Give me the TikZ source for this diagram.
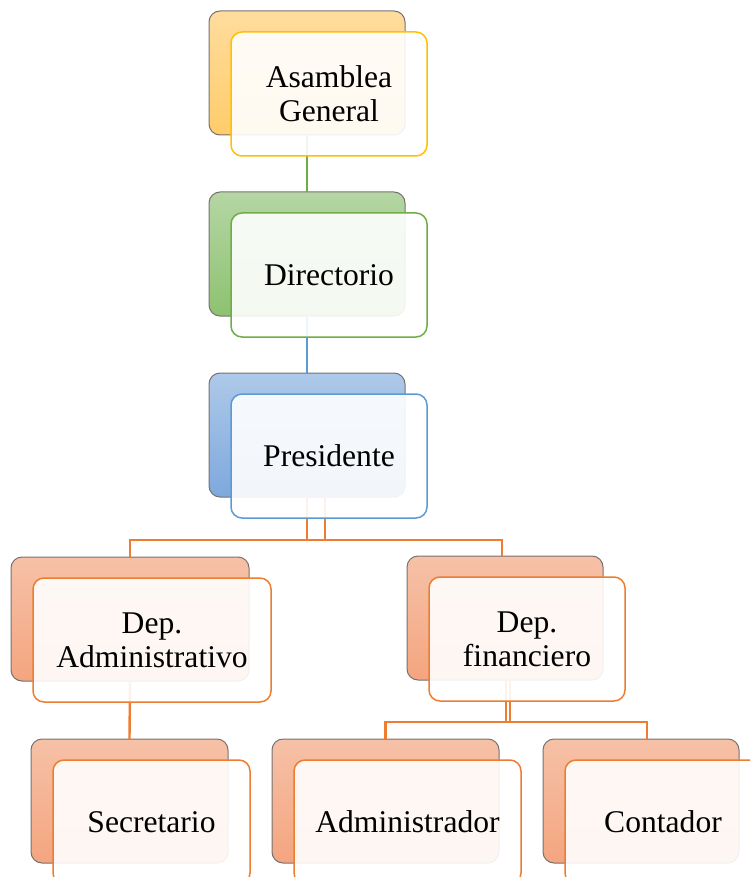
\documentclass[tikz,border=0pt]{standalone}
\usepackage{fontspec}
\setmainfont{Liberation Serif}

% accent colours of the chart
\definecolor{gold}{HTML}{FFC000}
\definecolor{goldtop}{HTML}{FFDC9E}
\definecolor{goldbot}{HTML}{FFCC6A}
\definecolor{grn}{HTML}{70AD47}
\definecolor{grntop}{HTML}{B5D6A4}
\definecolor{grnbot}{HTML}{8DC271}
\definecolor{blu}{HTML}{5B9BD5}
\definecolor{blutop}{HTML}{AEC9E9}
\definecolor{blubot}{HTML}{7EA8DC}
\definecolor{orng}{HTML}{ED7D31}
\definecolor{orngtop}{HTML}{F6C1A7}
\definecolor{orngbot}{HTML}{F4A57F}
\definecolor{backline}{HTML}{767171}

\tikzset{
  backbox/.style={draw=backline, line width=1pt, rounded corners=11pt,
    minimum height=124pt, inner sep=0pt, outer sep=0pt, anchor=north west},
  frontbox/.style={draw=#1, line width=1.5pt, fill=white, fill opacity=0.9,
    text opacity=1, rounded corners=11pt, minimum height=124pt,
    inner sep=0pt, outer sep=0pt, anchor=north west, align=center,
    font=\fontsize{31.6}{34}\selectfont},
  link/.style={draw=#1, line width=2.4pt},
}

% back card: name, x, y, width, top colour, bottom colour
\newcommand\orgback[6]{%
  \node[backbox, minimum width=#4pt, top color=#5, bottom color=#6] (#1-b) at (#2,#3) {};}
% front card: name, x, y, width, outline colour, label
\newcommand\orgfront[6]{%
  \node[frontbox=#5, minimum width=#4pt] (#1) at (#2+22,#3+21) {#6};}

\begin{document}
\begin{tikzpicture}[x=1pt,y=-1pt]
\path[use as bounding box] (0,0) rectangle (750,877);
\clip (0,0) rectangle (750,877);

% back cards
\orgback{ag}{209}{11}{196}{goldtop}{goldbot}
\orgback{dir}{209}{192}{196}{grntop}{grnbot}
\orgback{pres}{209}{373}{196}{blutop}{blubot}
\orgback{dadm}{11}{557}{238}{orngtop}{orngbot}
\orgback{dfin}{407}{556}{196}{orngtop}{orngbot}
\orgback{sec}{31}{739}{197}{orngtop}{orngbot}
\orgback{adm}{272}{739}{227}{orngtop}{orngbot}
\orgback{cont}{543}{739}{196}{orngtop}{orngbot}

% connectors
\draw[link=grn] (ag-b.south) -- (dir-b.north);
\draw[link=blu] (dir-b.south) -- (pres-b.north);
\draw[link=orng] ([xshift=18pt]pres-b.south) |- ([yshift=17pt]dadm-b.north) -- (dadm-b.north);
\draw[link=orng] (pres-b.south) |- ([xshift=-3pt,yshift=16pt]dfin-b.north) -- ([xshift=-3pt]dfin-b.north);
\draw[link=orng] (dadm-b.south) -- (sec-b.north);
\draw[link=orng] ([xshift=5pt]dfin-b.south) |- ([yshift=17pt]adm-b.north) -- (adm-b.north);
\draw[link=orng] ([xshift=1pt]dfin-b.south) |- ([xshift=6pt,yshift=17pt]cont-b.north) -- ([xshift=6pt]cont-b.north);

% front cards with labels
\orgfront{ag}{209}{11}{196}{gold}{Asamblea\\General}
\orgfront{dir}{209}{192}{196}{grn}{Directorio}
\orgfront{pres}{209}{373}{196}{blu}{Presidente}
\orgfront{dadm}{11}{557}{238}{orng}{Dep.\\Administrativo}
\orgfront{dfin}{407}{556}{196}{orng}{Dep.\\financiero}
\orgfront{sec}{31}{739}{197}{orng}{Secretario}
\orgfront{adm}{272}{739}{227}{orng}{Administrador}
\orgfront{cont}{543}{739}{196}{orng}{Contador}
\end{tikzpicture}
\end{document}
